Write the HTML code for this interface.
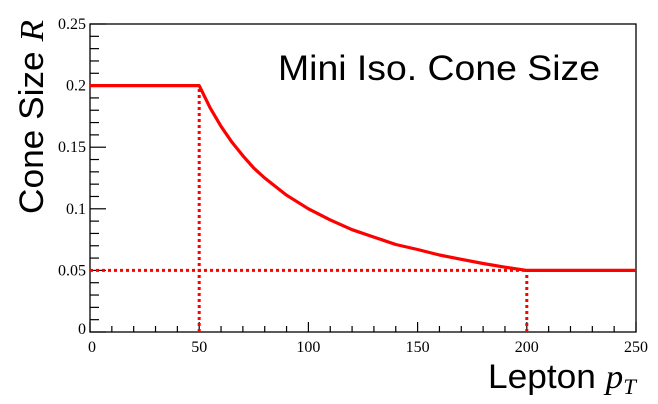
<!DOCTYPE html>
<html><head><meta charset="utf-8"><style>
html,body{margin:0;padding:0;background:#fff;width:658px;height:404px;overflow:hidden}
svg{display:block}
.tl{font-family:"Liberation Serif",serif;font-size:16px;fill:#000}
</style></head><body>
<svg id="chart" width="658" height="404" viewBox="0 0 658 404" xmlns="http://www.w3.org/2000/svg">
<rect x="90" y="24" width="546" height="308" fill="none" stroke="#000" stroke-width="1.3"/>
<g id="ticks"></g>
<g id="series"></g>
<text x="278" y="80" textLength="322" lengthAdjust="spacingAndGlyphs" font-family="Liberation Sans, DejaVu Sans, sans-serif" font-size="35">Mini Iso. Cone Size</text>
<text transform="translate(43,214) rotate(-90)" textLength="194" lengthAdjust="spacingAndGlyphs" font-family="Liberation Sans, sans-serif" font-size="34">Cone Size <tspan font-family="Liberation Serif, serif" font-style="italic">R</tspan></text>
<text x="488" y="388" textLength="148" lengthAdjust="spacingAndGlyphs" font-family="Liberation Sans, sans-serif" font-size="34">Lepton <tspan font-family="Liberation Serif, serif" font-style="italic">p</tspan><tspan font-family="Liberation Serif, serif" font-style="italic" font-size="22" dy="6">T</tspan></text>
</svg>
<script>
const xTicks=[0,50,100,150,200,250];
const yTicks=[0,0.05,0.1,0.15,0.2,0.25];
const yTickLabels=["0","0.05","0.1","0.15","0.2","0.25"];
const ptValues=[0,50,55,60,65,70,75,80,90,100,110,120,130,140,150,160,170,180,190,200,250];
const coneR=[0.2,0.2,0.182,0.167,0.154,0.143,0.133,0.125,0.111,0.1,0.091,0.083,0.077,0.071,0.067,0.0625,0.059,0.0556,0.0526,0.05,0.05];
const refX=[50,200];
const refY=[0.2,0.05];
const X0=90,X1=636,Y0=332,Y1=24;
const sx=v=>X0+(v-0)/(250-0)*(X1-X0);
const sy=v=>Y0-(v-0)/(0.25-0)*(Y0-Y1);
const NS="http://www.w3.org/2000/svg";
const tg=document.getElementById('ticks'),sg=document.getElementById('series');
function mk(tag,at,p){const e=document.createElementNS(NS,tag);for(const k in at)e.setAttribute(k,at[k]);p.appendChild(e);return e;}
for(let v=0;v<=250;v+=10){const maj=v%50===0;
 const l=mk('line',{x1:sx(v),x2:sx(v),y1:Y0,y2:Y0-(maj?10:6),stroke:'#000','stroke-width':1.2},tg);
 
 }
for(let i=0;i<=25;i++){const v=i*0.01,maj=i%5===0;
 const l=mk('line',{x1:X0,x2:X0+(maj?16:9),y1:sy(v),y2:sy(v),stroke:'#000','stroke-width':1.2},tg);
 
 }
xTicks.forEach(v=>{const t=mk('text',{x:sx(v)+(v===0?2:0),y:Y0+20,'text-anchor':'middle',class:'tl'},tg);t.textContent=String(v);
 
 });
yTicks.forEach((v,i)=>{const t=mk('text',{x:X0-4,y:sy(v)+(i===0?2:5),'text-anchor':'end',class:'tl'},tg);t.textContent=yTickLabels[i];
 
 });
refX.forEach((v,i)=>{const l=mk('line',{x1:sx(v),x2:sx(v),y1:Y0,y2:sy(refY[i]),stroke:'#f00','stroke-width':3,'stroke-dasharray':'3,3'},sg);
 
 });
const h=mk('line',{x1:X0,x2:sx(200),y1:sy(0.05),y2:sy(0.05),stroke:'#f00','stroke-width':3,'stroke-dasharray':'3,3'},sg);


const d=ptValues.map((v,i)=>(i?'L':'M')+sx(v).toFixed(1)+','+sy(coneR[i]).toFixed(1)).join('');
const p=mk('path',{d:d,fill:'none',stroke:'#f00','stroke-width':3.2,'stroke-linejoin':'round'},sg);


</script>
</body></html>
